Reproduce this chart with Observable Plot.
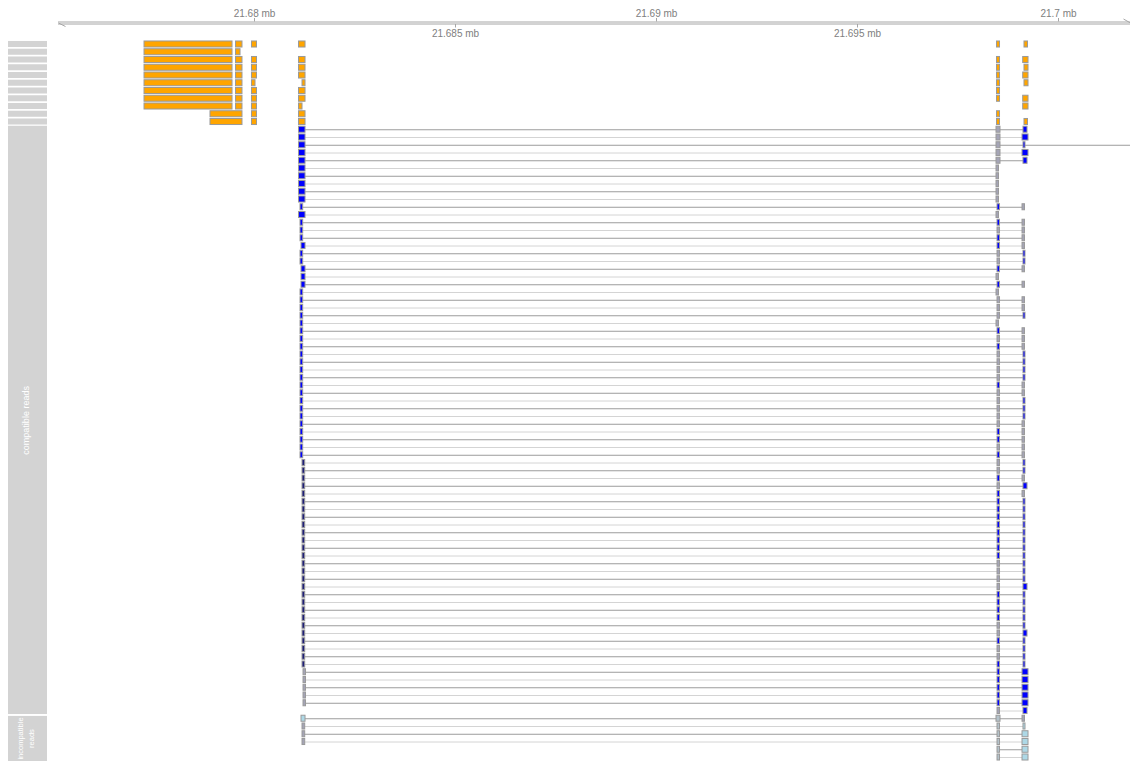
<!DOCTYPE html>
<html><head><meta charset="utf-8">
<script src="https://cdn.jsdelivr.net/npm/d3@7"></script>
<script src="https://cdn.jsdelivr.net/npm/@observablehq/plot@0.6"></script>
<style>
body{margin:0;background:#fff;}
#wrap{position:relative;width:1130px;height:761px;overflow:hidden;}
#wrap > svg, #wrap > figure{position:absolute;top:0;left:0;margin:0;}
</style>
</head><body><div id="wrap"></div>
<script>
// ---- genomic window and axis ticks ----
const viewStart = 21675124, viewEnd = 21701791;
const tickPos = [21680000, 21685000, 21690000, 21695000, 21700000];
const tickLabels = ["21.68 mb", "21.685 mb", "21.69 mb", "21.695 mb", "21.7 mb"];

// ---- transcript models (exon start/end, bp) ----
const transcripts = [
  [[21677264,21679453],[21679540,21679701],[21679937,21680062],[21681107,21681269],[21698470,21698545],[21699154,21699241]],
  [[21677264,21679453],[21679540,21679652]],
  [[21677264,21679453],[21679540,21679701],[21679937,21680062],[21681107,21681269],[21698470,21698545],[21699122,21699254]],
  [[21677264,21679453],[21679540,21679701],[21679937,21680062],[21681107,21681269],[21698470,21698545],[21699154,21699254]],
  [[21677264,21679453],[21679540,21679701],[21679937,21680062],[21681107,21681269],[21698470,21698545],[21699122,21699254]],
  [[21677264,21679453],[21679540,21679701],[21679937,21680025],[21681194,21681269],[21698470,21698545],[21699154,21699254]],
  [[21677264,21679453],[21679540,21679701],[21679937,21680062],[21681107,21681269],[21698470,21698545]],
  [[21677264,21679453],[21679540,21679701],[21679937,21680062],[21681107,21681269],[21698470,21698545],[21699122,21699254]],
  [[21677264,21679453],[21679540,21679701],[21679937,21680062],[21681107,21681194],[21699122,21699254]],
  [[21678905,21679701],[21679937,21680062],[21681107,21681269],[21698470,21698545]],
  [[21678905,21679701],[21679937,21680062],[21681107,21681269],[21698470,21698545],[21699154,21699241]]
];

// ---- read blocks (bp) ----
const leftBlocks  = {W:[21681107,21681269], N:[21681144,21681211], M:[21681169,21681269], K:[21681194,21681261], E:[21681219,21681281]};
const midBlocks   = {A:[21698458,21698557], B:[21698483,21698545], C:[21698458,21698520]};
const rightBlocks = {R:[21699129,21699229], W:[21699105,21699254], N:[21699129,21699179], G:[21699105,21699166]};
const fills = {B:"#0000ff", G:"#a4a4b6", K:"#1e1e78", L:"#add8e6", H:"#b4c2ca"};

// each read: left block+fill, middle block+fill, right block+fill ("--" = none)
const compatibleReads = [
 "WB AG RB","WB AG WB","WB AG NB","WB AG WB","WB AG RB","WB CG --","WB CG --","WB CG --","WB CG --","WB CG --",
 "NB BB GG","WB CG --","NB BB GG","NB BG GG","NB BB GG","MB BB GG","NB BG NB","NB BG NB","MB BB GG","MB CG --",
 "MB BB GG","NB CG --","NB BG GG","NB BG GG","NB BG NB","NB CG --","NB BB GG","NB BG GG","NB BB GG","NB BG NB",
 "NB BG NB","NB BG NB","NB BG NB","NB BB GG","NB BG GG","NB BG NB","NB BG NB","NB BG NB","NB BG GG","NB BB GG",
 "NB BB GG","NB BG GG","NB BB GG","KK BG NB","KK BG NB","KK BB GG","KK BG RB","KK BB GG","KK BB NB","KK BB NB",
 "KK BB NB","KK BB NB","KK BB NB","KK BB NB","KK BB NB","KK BB NB","KK BG NB","KK BG NB","KK BG NB","KK BG RB",
 "KK BB NB","KK BB NB","KK BB NB","KK BB NB","KK BG NB","KK BG RB","KK BB NB","KK BG NB","KK BG NB","KK BB NB",
 "EG BB WB","EG BB WB","EG BB WB","EG BB WB","EG BB WB","-- BG RB"
];
const incompatibleReads = ["ML AH GG","KG BH NL","KG BH WL","KG BH WL","-- BH WL","-- BH WL"];
const readsBeyondView = [3]; // compatible read whose junction line runs past the window

const colorOrange = "#ffa500", colorBorder = "#9a9a9a", lineDark = "#9c9c9c", lineLight = "#d4d4d4";

// ---- build tables ----
const exonRows = [], readRects = [], readLines = [];
transcripts.forEach((ex, i) => ex.forEach(([s, e]) => exonRows.push({row: i + 1, s, e})));
const allReads = [
  ...compatibleReads.map((c, k) => ({code: c, row: 12 + k, ext: readsBeyondView.includes(k + 1)})),
  ...incompatibleReads.map((c, k) => ({code: c, row: 88 + k, ext: false}))
];
allReads.forEach((r, idx) => {
  const [l, m, rt] = r.code.split(" ");
  const blocks = [];
  if (l[0] !== "-") blocks.push([...leftBlocks[l[0]], fills[l[1]]]);
  if (m[0] !== "-") blocks.push([...midBlocks[m[0]], fills[m[1]]]);
  if (rt[0] !== "-") blocks.push([...rightBlocks[rt[0]], fills[rt[1]]]);
  const s = blocks[0][0], e = r.ext ? viewEnd : blocks[blocks.length - 1][1];
  readLines.push({row: r.row, s, e, tone: idx % 2 === 0 ? lineDark : lineLight});
  blocks.forEach(([bs, be, f]) => readRects.push({row: r.row, s: bs, e: be, fill: f}));
});

const H = 0.39;
const yScale = {domain: [1, 93], range: [44, 757]};

const main = Plot.plot({
  width: 1130, height: 761, margin: 0,
  x: {domain: [viewStart, viewEnd], range: [58, 1130], axis: null},
  y: {...yScale, axis: null},
  marks: [
    Plot.ruleY(readLines, {y: "row", x1: "s", x2: "e", stroke: "tone", strokeWidth: 1}),
    Plot.rect(exonRows, {x1: "s", x2: "e", y1: d => d.row - H, y2: d => d.row + H, fill: colorOrange, stroke: colorBorder, strokeWidth: 1}),
    Plot.rect(readRects, {x1: "s", x2: "e", y1: d => d.row - H, y2: d => d.row + H, fill: "fill", stroke: colorBorder, strokeWidth: 1})
  ]
});

// ---- genome axis ----
const ticks = tickPos.map((p, i) => ({p, label: tickLabels[i], up: i % 2 === 0}));
const arrowLen = 174;
const axis = Plot.plot({
  width: 1130, height: 40, margin: 0,
  x: {domain: [viewStart, viewEnd], range: [58, 1130], axis: null},
  y: {domain: [0, 40], range: [0, 40], axis: null},
  marks: [
    Plot.ruleY([21.5, 23.5], {x1: viewStart, x2: viewEnd, stroke: "#a6a6a6", strokeWidth: 1}),
    Plot.link([{x1: viewStart, y1: 22.5, x2: viewStart + arrowLen, y2: 26}], {x1: "x1", y1: "y1", x2: "x2", y2: "y2", stroke: "#a6a6a6"}),
    Plot.link([{x1: viewEnd - arrowLen, y1: 18.5, x2: viewEnd, y2: 22.5}], {x1: "x1", y1: "y1", x2: "x2", y2: "y2", stroke: "#a6a6a6"}),
    Plot.ruleX(ticks, {x: "p", y1: d => d.up ? 18 : 24, y2: d => d.up ? 21.5 : 27.5, stroke: "#a6a6a6"}),
    Plot.text(ticks, {x: "p", y: d => d.up ? 13.5 : 33, text: "label", fill: "#808080", fontSize: 10, fontFamily: "Liberation Sans, Arial, sans-serif"})
  ]
});

// ---- left title panels ----
const panels = [
  ...transcripts.map((_, i) => ({y1: i + 1 - H, y2: i + 1 + H})),
  {y1: 11.55, y2: 87.45},
  {y1: 87.7, y2: 93.6}
];
const panelTexts = [
  {y: 49.5, x: 0.44, t: "compatible reads", size: 9},
  {y: 90.55, x: 0.3, t: "incompatible", size: 8},
  {y: 90.55, x: 0.6, t: "reads", size: 8}
];
const left = Plot.plot({
  width: 58, height: 761, margin: 0,
  x: {domain: [0, 1], range: [8, 47], axis: null},
  y: {...yScale, axis: null},
  marks: [
    Plot.rect(panels, {x1: 0, x2: 1, y1: "y1", y2: "y2", fill: "#d3d3d3"}),
    Plot.text(panelTexts.slice(0, 1), {x: "x", y: "y", text: "t", rotate: -90, fill: "#ffffff", fontSize: 9, fontFamily: "Liberation Sans Narrow, Arial Narrow, Liberation Sans, sans-serif"}),
    Plot.text(panelTexts.slice(1), {x: "x", y: "y", text: "t", rotate: -90, fill: "#ffffff", fontSize: 7.5, fontFamily: "Liberation Sans Narrow, Arial Narrow, Liberation Sans, sans-serif"})
  ]
});

const wrap = document.getElementById("wrap");
wrap.append(main, axis, left);
</script>
</body></html>
